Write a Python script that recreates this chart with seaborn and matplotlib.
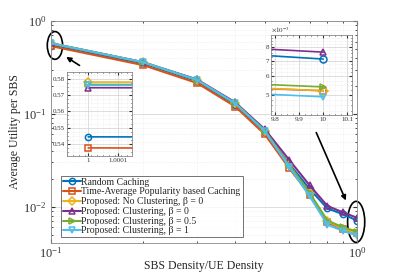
import numpy as np
import matplotlib
matplotlib.use("Agg")
import matplotlib.pyplot as plt
import seaborn as sns
from matplotlib.patches import Ellipse
from matplotlib.ticker import FixedLocator, FixedFormatter, NullFormatter

sns.set_style("ticks")
plt.rcParams["font.family"] = ["Liberation Serif", "DejaVu Serif"]
plt.rcParams["mathtext.fontset"] = "stix"

# SBS density / UE density
density = [0.1, 0.2, 0.3, 0.4, 0.5, 0.6, 0.7, 0.8, 0.9, 1.0]
random_caching = [0.5443, 0.350, 0.225, 0.125, 0.064, 0.029, 0.0155, 0.0096, 0.0083, 0.0071]
time_avg = [0.5375, 0.335, 0.215, 0.120, 0.060, 0.026, 0.0135, 0.0068, 0.0057, 0.0052]
no_clust = [0.5780, 0.360, 0.232, 0.130, 0.066, 0.028, 0.0140, 0.0070, 0.0058, 0.0052]
clust_b0 = [0.5745, 0.360, 0.235, 0.133, 0.068, 0.032, 0.0170, 0.0102, 0.0087, 0.0076]
clust_b05 = [0.5765, 0.360, 0.232, 0.130, 0.066, 0.028, 0.0140, 0.0071, 0.0060, 0.0054]
clust_b1 = [0.5760, 0.360, 0.232, 0.130, 0.065, 0.027, 0.0130, 0.0064, 0.0055, 0.0049]

labels = [
    "Random Caching",
    "Time-Average Popularity based Caching",
    "Proposed: No Clustering, β = 0",
    "Proposed: Clustering, β = 0",
    "Proposed: Clustering, β = 0.5",
    "Proposed: Clustering, β = 1",
]
series = [random_caching, time_avg, no_clust, clust_b0, clust_b05, clust_b1]
colors = ["#0072BD", "#D95319", "#EDB120", "#7E2F8E", "#77AC30", "#4DBEEE"]
markers = ["o", "s", "D", "^", ">", "v"]

fig = plt.figure(figsize=(3.95, 2.73), dpi=100)
ax = fig.add_axes([0.129, 0.110, 0.775, 0.813])


def draw(a, xs, scale=1.0, ms=5.5, lw=1.5, leg=False):
    for vals, lab, c, m in zip(series, labels, colors, markers):
        sns.lineplot(x=xs, y=np.array(vals) * scale, ax=a, color=c, marker=m,
                     markersize=ms, markerfacecolor="none", markeredgecolor=c,
                     markeredgewidth=1.1, linewidth=lw, label=lab if leg else None,
                     legend=False)


def style_grid(a):
    a.grid(True, which="major", color="#d0d0d0", linewidth=0.5, linestyle="-")
    a.grid(True, which="minor", color="#e0e0e0", linewidth=0.4, linestyle=":")
    a.tick_params(which="both", direction="in", top=True, right=True, colors="#333333")
    for s in a.spines.values():
        s.set_color("#888888")
        s.set_linewidth(0.6)


draw(ax, density, leg=True)
ax.set_xscale("log")
ax.set_yscale("log")
ax.set_xlim(0.1, 1.0)
ax.set_ylim(10 ** -2.39, 1.0)
ax.xaxis.set_minor_formatter(NullFormatter())
style_grid(ax)
ax.tick_params(which="major", labelsize=9, length=3, pad=3)
ax.tick_params(axis="x", which="major", pad=2)
ax.tick_params(which="minor", length=1.5)
ax.set_xlabel("SBS Density/UE Density", fontsize=8.5, labelpad=0)
ax.set_ylabel("Average Utility per SBS", fontsize=8.5, labelpad=2)

handles, labs = ax.get_legend_handles_labels()
for h in handles:
    h.set_markersize(4.5)
leg = ax.legend(handles, labs, loc="lower left", bbox_to_anchor=(0.033, 0.025),
                fontsize=7, frameon=True, fancybox=False, handlelength=1.8,
                handleheight=0.5, handletextpad=0.1, borderpad=0.2,
                labelspacing=0.08, borderaxespad=0)
leg.get_frame().set_edgecolor("#333333")
leg.get_frame().set_linewidth(0.6)

# ellipses and arrows
ax.add_patch(Ellipse((0.013, 0.89), 0.05, 0.125, transform=ax.transAxes, fill=False,
                     edgecolor="black", linewidth=1.2, clip_on=False))
ax.add_patch(Ellipse((0.997, 0.095), 0.056, 0.185, transform=ax.transAxes, fill=False,
                     edgecolor="black", linewidth=1.2, clip_on=False))
ax.annotate("", xy=(0.042, 0.845), xytext=(0.101, 0.793), xycoords="axes fraction",
            arrowprops=dict(arrowstyle="-|>", color="black", lw=1.2, mutation_scale=7))
ax.annotate("", xy=(0.967, 0.180), xytext=(0.863, 0.509), xycoords="axes fraction",
            arrowprops=dict(arrowstyle="-|>", color="black", lw=1.2, mutation_scale=7))

# inset 1: zoom at density 0.1 (x scaled by 10)
x10 = np.array(density) * 10
ax1 = fig.add_axes([0.170, 0.429, 0.165, 0.308])
draw(ax1, x10, ms=4.5, lw=1.2)
ax1.set_xlim(0.99993, 1.000147)
ax1.set_ylim(0.5326, 0.5843)
ax1.xaxis.set_major_locator(FixedLocator([1.0, 1.0001]))
ax1.xaxis.set_major_formatter(FixedFormatter(["1", "1.0001"]))
ax1.xaxis.set_minor_locator(FixedLocator(np.arange(0.99993, 1.00015, 0.00002)))
ax1.yaxis.set_major_locator(FixedLocator([0.54, 0.55, 0.56, 0.57, 0.58]))
ax1.yaxis.set_major_formatter(FixedFormatter(["0.54", "0.55", "0.56", "0.57", "0.58"]))
ax1.yaxis.set_minor_locator(FixedLocator(np.arange(0.535, 0.585, 0.0025)))
style_grid(ax1)
ax1.tick_params(which="major", labelsize=5, length=2, pad=1.5)
ax1.tick_params(which="minor", length=1)
ax1.set_facecolor("white")

# inset 2: zoom at density 1.0 (x scaled by 10, y in 1e-3)
ax2 = fig.add_axes([0.686, 0.579, 0.205, 0.293])
draw(ax2, x10, scale=1e3, ms=5, lw=1.2)
ax2.set_xscale("log")
ax2.set_yscale("log")
ax2.set_xlim(9.785, 10.12)
ax2.set_ylim(4.1, 9.0)
ax2.xaxis.set_major_locator(FixedLocator([9.8, 9.9, 10.0, 10.1]))
ax2.xaxis.set_major_formatter(FixedFormatter(["9.8", "9.9", "10", "10.1"]))
ax2.xaxis.set_minor_locator(FixedLocator(np.arange(9.8, 10.12, 0.025)))
ax2.xaxis.set_minor_formatter(NullFormatter())
ax2.yaxis.set_major_locator(FixedLocator([5, 6, 7, 8]))
ax2.yaxis.set_major_formatter(FixedFormatter(["5", "6", "7", "8"]))
ax2.yaxis.set_minor_locator(FixedLocator(np.arange(4.25, 9.0, 0.25)))
ax2.yaxis.set_minor_formatter(NullFormatter())
style_grid(ax2)
ax2.tick_params(which="major", labelsize=5, length=2, pad=1.5)
ax2.tick_params(which="minor", length=1)
ax2.set_facecolor("white")
ax2.text(0.0, 1.01, r"$\times 10^{-3}$", transform=ax2.transAxes, fontsize=5,
         ha="left", va="bottom", color="#333333")

fig.savefig("out.png", dpi=100)
